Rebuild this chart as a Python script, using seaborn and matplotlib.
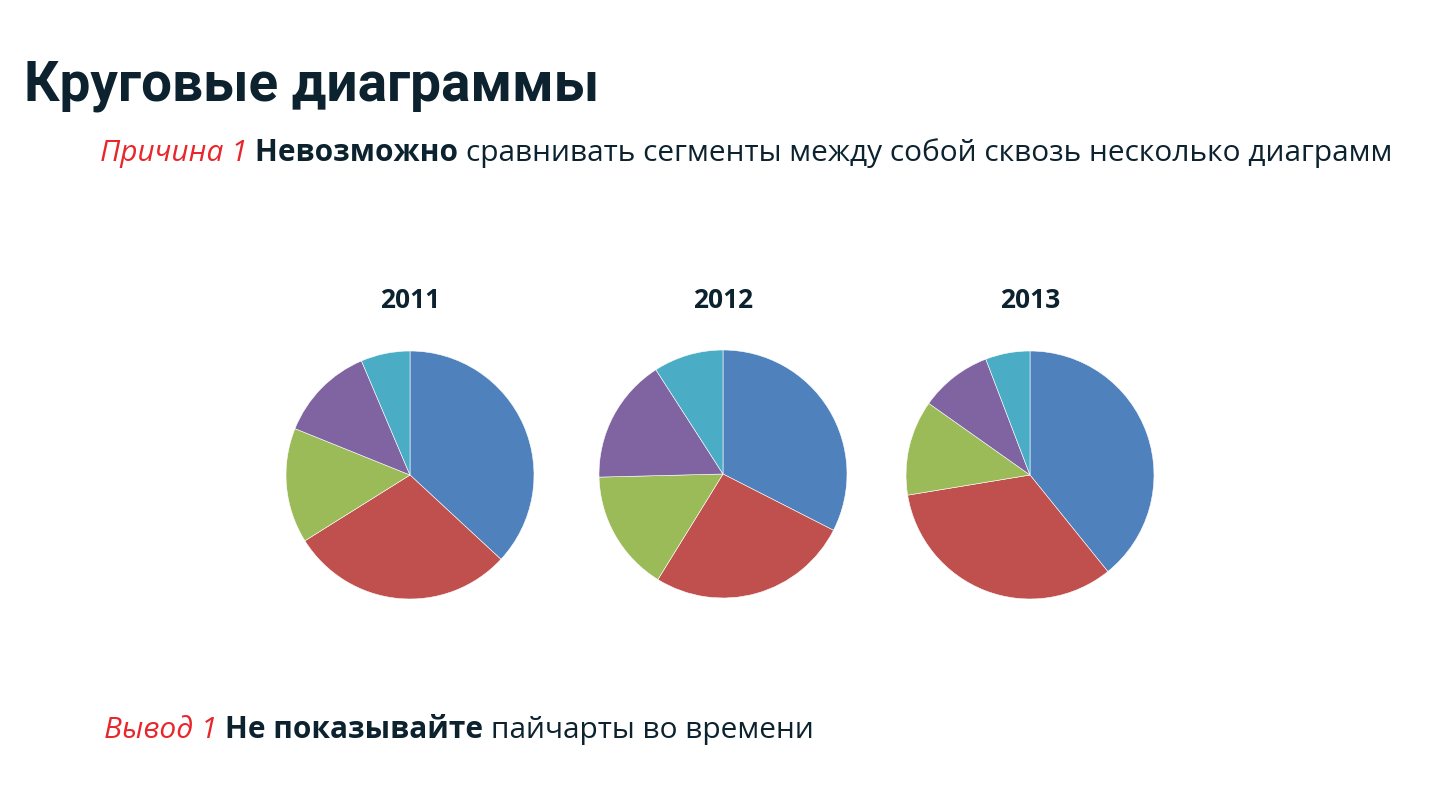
import numpy as np
import matplotlib
matplotlib.use("Agg")
import matplotlib.pyplot as plt
import seaborn as sns

## data (shares in %)
years = ["2011", "2012", "2013"]
segments = ["A", "B", "C", "D", "E"]
share_2011 = [36.9, 29.2, 15.0, 12.5, 6.4]
share_2012 = [32.5, 26.3, 15.8, 16.3, 9.1]
share_2013 = [39.2, 33.2, 12.4, 9.4, 5.8]
shares = [share_2011, share_2012, share_2013]

colors = sns.color_palette(["#4F81BD", "#C0504D", "#9BBB59", "#8064A2", "#4BACC6"])

sns.set_theme(style="white")
plt.rcParams['font.family'] = ['Open Sans', 'DejaVu Sans']

DARK = "#0C222F"
RED = "#E8262B"

W, H = 1430, 794
fig = plt.figure(figsize=(W / 100, H / 100), dpi=100)
fig.patch.set_facecolor("white")

## pies
centers = [(410, 475), (723, 474), (1030, 475)]
R = 124
for (cx, cy), yr, vals in zip(centers, years, shares):
    half = R * 1.01
    ax = fig.add_axes([(cx - half) / W, (H - cy - half) / H, 2 * half / W, 2 * half / H])
    ax.pie(vals, colors=colors, startangle=90, counterclock=False, radius=1,
           wedgeprops=dict(edgecolor="white", linewidth=0.4))
    ax.set_xlim(-1.01, 1.01)
    ax.set_ylim(-1.01, 1.01)
    ax.set_aspect("equal")
    ax.axis("off")
    fig.text(cx / W, 1 - 301 / H, yr, ha="center", va="center", fontsize=19,
             fontweight="bold", color=DARK)

## title
fig.text(24 / W, 1 - 100 / H, "Круговые диаграммы", ha="left", va="baseline",
         fontsize=39.5, fontweight="bold", color=DARK, family=["Roboto", "DejaVu Sans"])

renderer = fig.canvas.get_renderer()


def text_run(x, y, parts, size):
    # draw pieces of text one after another on one line
    for s, style, weight, col in parts:
        t = fig.text(x / W, 1 - y / H, s, ha="left", va="baseline", fontsize=size,
                     fontstyle=style, fontweight=weight, color=col)
        bb = t.get_window_extent(renderer=renderer)
        x = bb.x1


text_run(100, 161, [("Причина 1 ", "italic", "normal", RED),
                    ("Невозможно ", "normal", "bold", DARK),
                    ("сравнивать сегменты между собой сквозь несколько диаграмм", "normal", "normal", DARK)], 21.5)

text_run(104, 738, [("Вывод 1 ", "italic", "normal", RED),
                    ("Не показывайте ", "normal", "bold", DARK),
                    ("пайчарты во времени", "normal", "normal", DARK)], 21.5)

fig.savefig("out.png", dpi=100, facecolor="white")
